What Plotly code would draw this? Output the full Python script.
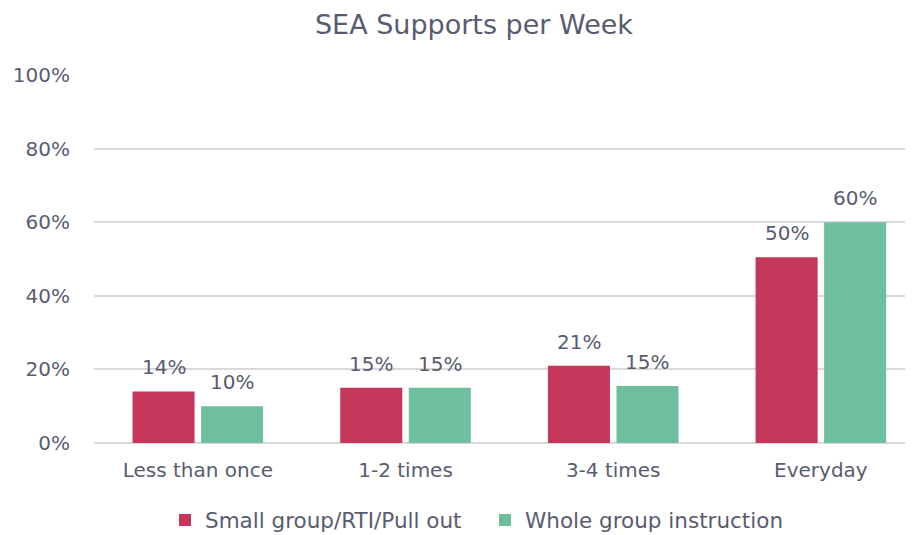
import plotly.graph_objects as go

categories = ["Less than once", "1-2 times", "3-4 times", "Everyday"]
small_group = [0.14, 0.15, 0.21, 0.505]
whole_group = [0.10, 0.15, 0.155, 0.60]
small_labels = ["14%", "15%", "21%", "50%"]
whole_labels = ["10%", "15%", "15%", "60%"]
tick_vals = [0, 0.2, 0.4, 0.6, 0.8, 1.0]
tick_text = ["0%", "20%", "40%", "60%", "80%", "100%"]

TXT = "#595C70"
FONT = "DejaVu Sans"

W, H = 913, 535
ML, MR, MT, MB = 86, 0, 67, 100
X_RANGE = [-0.5, 3.482]
BARGAP = 0.34
px_per_cat = (W - ML - MR) / (X_RANGE[1] - X_RANGE[0])
slot = (1 - BARGAP) / 2
shift = slot / 2 * px_per_cat

fig = go.Figure()
fig.add_trace(go.Bar(name="Small group/RTI/Pull out", x=categories, y=small_group,
                     marker_color="#C6365A", marker_line_width=0))
fig.add_trace(go.Bar(name="Whole group instruction", x=categories, y=whole_group,
                     marker_color="#6DBF9E", marker_line_width=0))

annotations = []
for series, labels, sgn in [(small_group, small_labels, -1), (whole_group, whole_labels, 1)]:
    for c, v, t in zip(categories, series, labels):
        annotations.append(dict(x=c, y=v, xref="x", yref="y", text=t, showarrow=False,
                                xshift=sgn * shift, yshift=24, yanchor="middle",
                                font=dict(size=20, color=TXT, family=FONT)))

fig.update_layout(
    width=W, height=H,
    margin=dict(l=ML, r=MR, t=MT, b=MB),
    paper_bgcolor="white", plot_bgcolor="white",
    barmode="group", bargap=BARGAP, bargroupgap=0.095,
    font=dict(family=FONT, color=TXT, size=20),
    title=dict(text="SEA Supports per Week", x=466 / W, xanchor="center",
               y=1 - 17 / H, yanchor="middle",
               font=dict(family=FONT, size=27, color=TXT)),
    showlegend=True,
    legend=dict(orientation="h", xref="container", yref="container",
                x=157 / W, xanchor="left", y=1 - 512 / H, yanchor="middle",
                font=dict(size=21.5, color=TXT, family=FONT), traceorder="normal",
                itemwidth=30, entrywidth=275, entrywidthmode="pixels"),
    annotations=annotations,
    xaxis=dict(range=X_RANGE, showgrid=False, showline=False, ticks="",
               ticklabelstandoff=13,
               tickfont=dict(size=20, color=TXT, family=FONT)),
    yaxis=dict(range=[0, 1], tickvals=tick_vals, ticktext=tick_text,
               showgrid=True, gridcolor="#D9D9D9", gridwidth=1.5,
               zeroline=True, zerolinecolor="#D9D9D9", zerolinewidth=1.5,
               showline=False, ticks="", ticklabelstandoff=23,
               tickfont=dict(size=20, color=TXT, family=FONT)),
)

fig.write_html("out.html")
